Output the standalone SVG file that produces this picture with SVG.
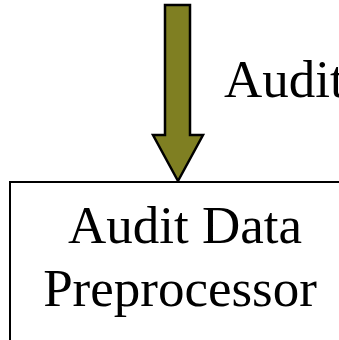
<svg xmlns="http://www.w3.org/2000/svg" width="339" height="340" viewBox="0 0 339 340">
<style>
.t{font-family:"Liberation Serif","Times New Roman",serif;font-size:53px;fill:#000}
.box{fill:#fff;stroke:#000;stroke-width:2}
.arr{fill:#7f7f22;stroke:#000;stroke-width:2.5;stroke-linejoin:miter}
</style>
<rect width="339" height="340" fill="#fff"/>
<g id="connectors">
<polygon class="arr" points="165,5 190,5 190,135 203,135 178,181 153,135 165,135"/>
<text class="t" x="224" y="97">Audit</text>
</g>
<g id="preprocessor">
<rect class="box" x="10" y="182" width="360" height="200"/>
<text class="t" x="185" y="243" text-anchor="middle">Audit Data</text>
<text class="t" x="180" y="306" text-anchor="middle">Preprocessor</text>
</g>
</svg>
